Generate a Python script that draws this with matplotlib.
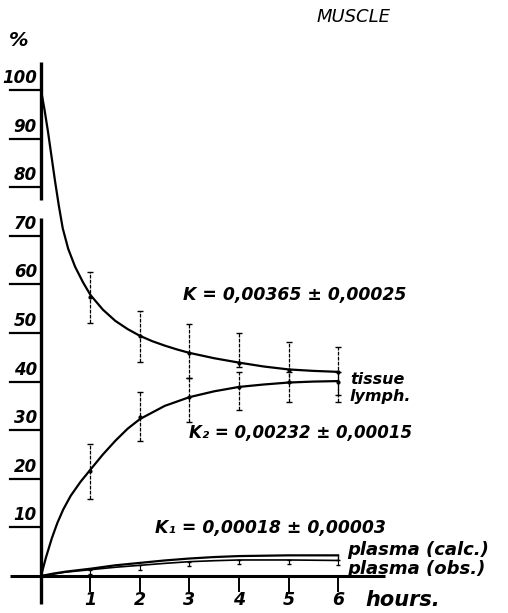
import numpy as np
import matplotlib.pyplot as plt

# tissue curve
tissue_t = [0, 0.07, 0.14, 0.21, 0.28, 0.36, 0.44, 0.55, 0.69, 0.85, 1.0, 1.25,
            1.5, 1.75, 2.0, 2.25, 2.5, 2.75, 3.0, 3.5, 4.0, 4.5, 5.0, 5.5, 6.0]
tissue_v = [100, 96, 91.5, 86.5, 81.5, 76.2, 71.5, 67.3, 63.6, 60.4, 57.8, 54.8,
            52.5, 50.8, 49.4, 48.3, 47.4, 46.6, 45.9, 44.8, 43.9, 43.1, 42.5, 42.2, 42.0]
# lymph curve
lymph_t = [0, 0.1, 0.22, 0.33, 0.45, 0.6, 0.8, 1.0, 1.25, 1.5, 1.75, 2.0,
           2.5, 3.0, 3.5, 4.0, 4.5, 5.0, 5.5, 6.0]
lymph_v = [0, 3.8, 7.8, 10.9, 13.7, 16.5, 19.4, 21.9, 25.0, 27.8, 30.3, 32.3,
           35.0, 36.8, 38.0, 38.9, 39.4, 39.8, 40.0, 40.1]
# plasma curves
plasma_t = [0, 0.25, 0.5, 1, 1.5, 2, 2.5, 3, 3.5, 4, 5, 6]
plasma_calc = [0, 0.5, 0.9, 1.5, 2.2, 2.7, 3.2, 3.6, 3.9, 4.1, 4.25, 4.25]
plasma_obs = [0, 0.4, 0.8, 1.3, 1.8, 2.2, 2.6, 2.95, 3.15, 3.3, 3.3, 3.2]

# observed points with ranges
hours = [1, 2, 3, 4, 5, 6]
tissue_mean = [57.4, 49.4, 45.9, 43.8, 42.4, 42.0]
tissue_lo = [52.0, 44.0, 40.7, 43.0, 40.0, 37.2]
tissue_hi = [62.5, 54.5, 51.9, 50.0, 48.1, 47.1]
lymph_mean = [21.6, 32.7, 36.8, 38.9, 39.9, 40.0]
lymph_lo = [15.8, 27.8, 31.7, 34.2, 35.8, 35.8]
lymph_hi = [27.1, 37.9, 40.7, 42.0, 42.0, 42.0]
plasma_pts = [1.3, 2.2, 2.95, 3.3, 3.3, 3.2]

y_ticks = [10, 20, 30, 40, 50, 60, 70, 80, 90, 100]

W, H = 508, 613
fig = plt.figure(figsize=(W / 100, H / 100), dpi=100)
ax = fig.add_axes([0, 0, 1, 1])
ax.set_xlim(-0.828, 9.434)
ax.set_ylim(-7.61, 118.5)
ax.axis('off')

font = dict(family='DejaVu Sans', style='italic', weight='bold', color='black')

def ftext(x, y, s, size, **kw):
    # place text by pixel position in the picture
    fig.text(x / W, 1 - y / H, s, fontsize=size, **font, **kw)

# broken y axis and x axis
ax.plot([0, 0], [105.8, 77.4], color='black', lw=2.4, solid_capstyle='butt')
ax.plot([0, 0], [73.7, -5.8], color='black', lw=2.4, solid_capstyle='butt')
ax.plot([-0.63, 6.95], [0, 0], color='black', lw=2.2, solid_capstyle='butt')

for v in y_ticks:
    ax.plot([-0.63, 0], [v, v], color='black', lw=1.6)
    ax.text(-0.08, v + 0.6, str(v), ha='right', va='bottom', fontsize=12, **font)

for h in hours:
    ax.plot([h, h], [0, -3.1], color='black', lw=1.4)
    ax.text(h, -4.9, str(h), ha='center', va='center', fontsize=12.5, **font)

# curves
ax.plot(tissue_t, tissue_v, color='black', lw=1.6)
ax.plot(lymph_t, lymph_v, color='black', lw=1.6)
ax.plot(plasma_t, plasma_calc, color='black', lw=1.6)
ax.plot(plasma_t, plasma_obs, color='black', lw=1.2)

def bars(mean, lo, hi):
    err = [np.array(mean) - np.array(lo), np.array(hi) - np.array(mean)]
    eb = ax.errorbar(hours, mean, yerr=err, fmt='.', ms=4, color='black',
                     elinewidth=0.9, capsize=2.5, capthick=1.0)
    eb[2][0].set_linestyle((0, (3, 1)))

bars(tissue_mean, tissue_lo, tissue_hi)
bars(lymph_mean, lymph_lo, lymph_hi)
ax.errorbar(hours, plasma_pts, yerr=[[0.9] * 6, [0.0] * 6], fmt='none',
            color='black', elinewidth=0.8, capsize=1.5)
ax.plot([6, 6], [plasma_calc[-1], plasma_obs[-1]], color='black', lw=1.0)

# labels
ftext(19, 40, '%', 14, ha='center', va='center')
fig.text(354 / W, 1 - 17 / H, 'MUSCLE', fontsize=13, family='DejaVu Sans',
         style='italic', ha='center', va='center')
ftext(183, 295, 'K = 0,00365 ± 0,00025', 12.4, ha='left', va='center')
ftext(350, 380, 'tissue', 11.5, ha='left', va='center')
ftext(350, 397, 'lymph.', 11.5, ha='left', va='center')
ftext(189, 433, 'K₂ = 0,00232 ± 0,00015', 12.0, ha='left', va='center')
ftext(155, 528, 'K₁ = 0,00018 ± 0,00003', 12.4, ha='left', va='center')
ftext(347, 550, 'plasma (calc.)', 13, ha='left', va='center')
ftext(347, 569, 'plasma (obs.)', 13, ha='left', va='center')
ftext(365, 600, 'hours.', 15, ha='left', va='center')

fig.savefig('out.png', dpi=100)
